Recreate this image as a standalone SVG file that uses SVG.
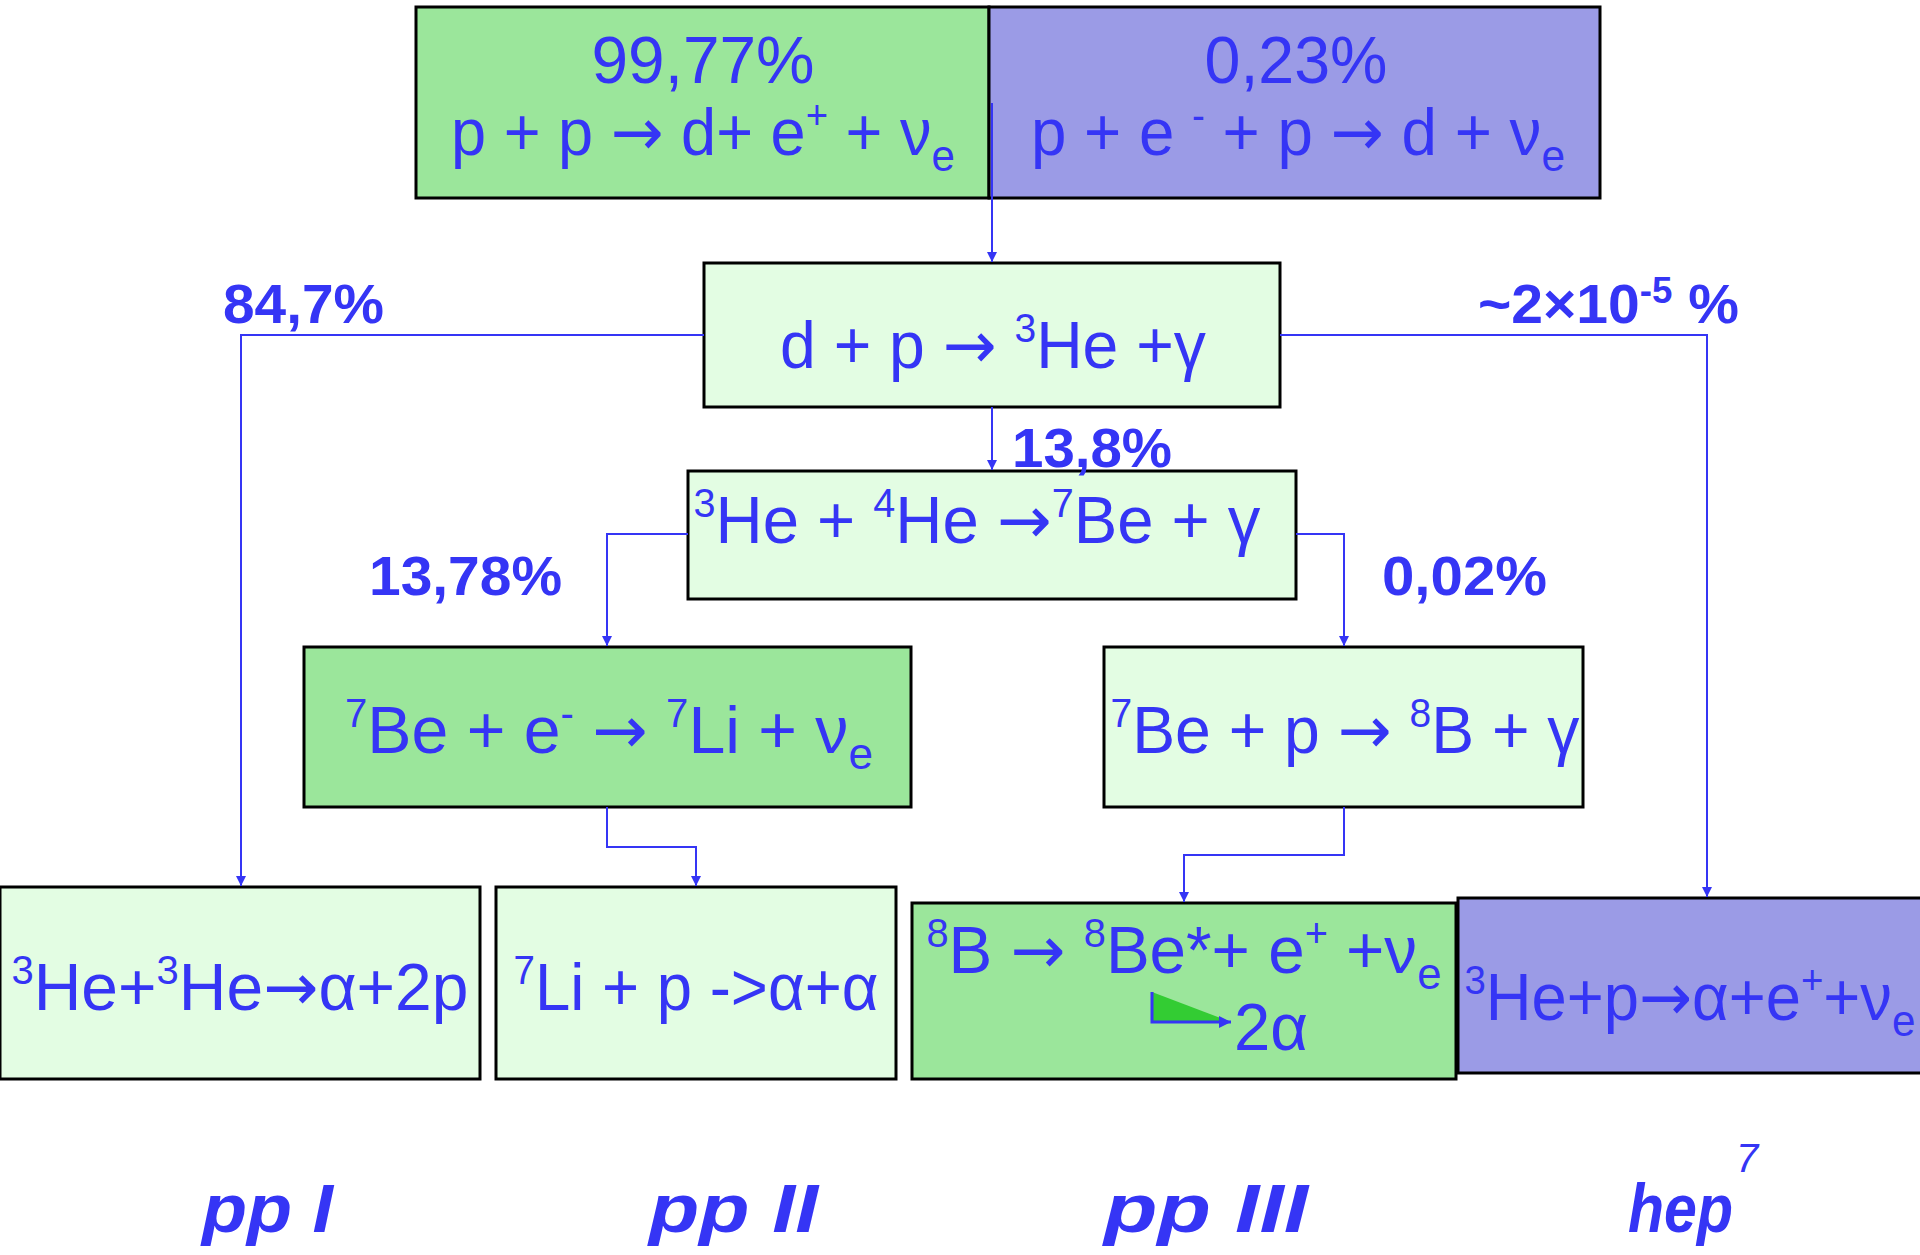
<svg xmlns="http://www.w3.org/2000/svg" width="1920" height="1255" viewBox="0 0 1920 1255">
<defs>
<style>
.box{stroke:#000;stroke-width:3}
.g{fill:#9be69b}
.p{fill:#9b9be6}
.l{fill:#e3fde3}
text{font-family:"Liberation Sans",Arial,sans-serif;fill:#3535f5}
.t{font-size:66px}
.s{font-size:40px}
.b{font-size:44px}
.ar{font-family:"DejaVu Sans",sans-serif}
.pct{font-size:56px;font-weight:bold}
.cyc{font-size:68px;font-weight:bold;font-style:italic}
.con{fill:none;stroke:#3535f5;stroke-width:2}
</style>
<marker id="ah" viewBox="0 0 10 10" refX="10" refY="5" markerWidth="10" markerHeight="14" markerUnits="userSpaceOnUse" orient="auto">
<path d="M0,0 L10,5 L0,10 z" fill="#3535f5"/>
</marker>
<marker id="ah2" viewBox="0 0 10 10" refX="10" refY="5" markerWidth="14" markerHeight="12" markerUnits="userSpaceOnUse" orient="auto">
<path d="M0,0 L10,5 L0,10 z" fill="#3535f5"/>
</marker>
</defs>
<rect width="1920" height="1255" fill="#fff"/>

<g id="n-pp">
<rect class="box g" x="416" y="7" width="573" height="191"/>
<text class="t" x="703" y="83" text-anchor="middle" textLength="223" lengthAdjust="spacingAndGlyphs">99,77%</text>
<text class="t" x="703" y="155" text-anchor="middle" textLength="504" lengthAdjust="spacingAndGlyphs">p + p <tspan class="ar">→</tspan> d+ e<tspan class="s" dy="-26">+</tspan><tspan dy="26"> + ν</tspan><tspan class="b" dy="16">e</tspan></text>
</g>

<g id="n-pep">
<rect class="box p" x="989" y="7" width="611" height="191"/>
<text class="t" x="1296" y="83" text-anchor="middle" textLength="183" lengthAdjust="spacingAndGlyphs">0,23%</text>
<text class="t" x="1298" y="155" text-anchor="middle" textLength="534" lengthAdjust="spacingAndGlyphs">p + e <tspan class="s" dy="-26">-</tspan><tspan dy="26"> + p </tspan><tspan class="ar">→</tspan> d + ν<tspan class="b" dy="16">e</tspan></text>
</g>

<g id="n-dp">
<rect class="box l" x="704" y="263" width="576" height="144"/>
<text class="t" x="993" y="368" text-anchor="middle" textLength="426" lengthAdjust="spacingAndGlyphs">d + p <tspan class="ar">→</tspan> <tspan class="s" dy="-26">3</tspan><tspan dy="26">He +γ</tspan></text>
</g>

<g id="n-he3he4">
<rect class="box l" x="688" y="471" width="608" height="128"/>
<text class="t" x="977" y="543" text-anchor="middle" textLength="567" lengthAdjust="spacingAndGlyphs"><tspan class="s" dy="-26">3</tspan><tspan dy="26">He + </tspan><tspan class="s" dy="-26">4</tspan><tspan dy="26">He </tspan><tspan class="ar">→</tspan><tspan class="s" dy="-26">7</tspan><tspan dy="26">Be + γ</tspan></text>
</g>

<g id="n-be7e">
<rect class="box g" x="304" y="647" width="607" height="160"/>
<text class="t" x="609" y="753" text-anchor="middle" textLength="528" lengthAdjust="spacingAndGlyphs"><tspan class="s" dy="-26">7</tspan><tspan dy="26">Be + e</tspan><tspan class="s" dy="-26">-</tspan><tspan dy="26"> </tspan><tspan class="ar">→</tspan> <tspan class="s" dy="-26">7</tspan><tspan dy="26">Li + ν</tspan><tspan class="b" dy="16">e</tspan></text>
</g>

<g id="n-be7p">
<rect class="box l" x="1104" y="647" width="479" height="160"/>
<text class="t" x="1345" y="753" text-anchor="middle" textLength="469" lengthAdjust="spacingAndGlyphs"><tspan class="s" dy="-26">7</tspan><tspan dy="26">Be + p </tspan><tspan class="ar">→</tspan> <tspan class="s" dy="-26">8</tspan><tspan dy="26">B + γ</tspan></text>
</g>

<g id="n-he3he3">
<rect class="box l" x="0" y="887" width="480" height="192"/>
<text class="t" x="240" y="1010" text-anchor="middle" textLength="457" lengthAdjust="spacingAndGlyphs"><tspan class="s" dy="-26">3</tspan><tspan dy="26">He+</tspan><tspan class="s" dy="-26">3</tspan><tspan dy="26">He</tspan><tspan class="ar">→</tspan>α+2p</text>
</g>

<g id="n-li7p">
<rect class="box l" x="496" y="887" width="400" height="192"/>
<text class="t" x="696" y="1010" text-anchor="middle" textLength="365" lengthAdjust="spacingAndGlyphs"><tspan class="s" dy="-26">7</tspan><tspan dy="26">Li + p -&gt;α+α</tspan></text>
</g>

<g id="n-b8">
<rect class="box g" x="912" y="903" width="544" height="176"/>
<text class="t" x="1184" y="973" text-anchor="middle" textLength="515" lengthAdjust="spacingAndGlyphs"><tspan class="s" dy="-26">8</tspan><tspan dy="26">B </tspan><tspan class="ar">→</tspan> <tspan class="s" dy="-26">8</tspan><tspan dy="26">Be*+ e</tspan><tspan class="s" dy="-26">+</tspan><tspan dy="26"> +ν</tspan><tspan class="b" dy="16">e</tspan></text>
<polyline points="1152,992 1152,1022 1231,1022" fill="#33cc33" stroke="#3535f5" stroke-width="3" marker-end="url(#ah2)"/>
<text class="t" x="1234" y="1050" textLength="74" lengthAdjust="spacingAndGlyphs">2α</text>
</g>

<g id="n-hep">
<rect class="box p" x="1458" y="898" width="466" height="175"/>
<text class="t" x="1690" y="1020" text-anchor="middle" textLength="451" lengthAdjust="spacingAndGlyphs"><tspan class="s" dy="-26">3</tspan><tspan dy="26">He+p</tspan><tspan class="ar">→</tspan>α+e<tspan class="s" dy="-26">+</tspan><tspan dy="26">+ν</tspan><tspan class="b" dy="16">e</tspan></text>
</g>

<g id="connectors">
<polyline class="con" points="992,103 992,262" marker-end="url(#ah)"/>
<polyline class="con" points="704,335 241,335 241,886" marker-end="url(#ah)"/>
<polyline class="con" points="1280,335 1707,335 1707,897" marker-end="url(#ah)"/>
<polyline class="con" points="992,407 992,470" marker-end="url(#ah)"/>
<polyline class="con" points="688,534 607,534 607,646" marker-end="url(#ah)"/>
<polyline class="con" points="1296,534 1344,534 1344,646" marker-end="url(#ah)"/>
<polyline class="con" points="607,807 607,847 696,847 696,886" marker-end="url(#ah)"/>
<polyline class="con" points="1344,807 1344,855 1184,855 1184,902" marker-end="url(#ah)"/>
</g>

<g id="labels">
<text class="pct" x="223" y="323" textLength="161" lengthAdjust="spacingAndGlyphs">84,7%</text>
<text class="pct" x="1478" y="323" textLength="261" lengthAdjust="spacingAndGlyphs">~2×10<tspan style="font-size:36px" dy="-20">-5</tspan><tspan dy="20"> %</tspan></text>
<text class="pct" x="1012" y="467" textLength="160" lengthAdjust="spacingAndGlyphs">13,8%</text>
<text class="pct" x="369" y="595" textLength="193" lengthAdjust="spacingAndGlyphs">13,78%</text>
<text class="pct" x="1382" y="595" textLength="165" lengthAdjust="spacingAndGlyphs">0,02%</text>
<text class="cyc" x="202" y="1232" textLength="131" lengthAdjust="spacingAndGlyphs">pp I</text>
<text class="cyc" x="649" y="1232" textLength="169" lengthAdjust="spacingAndGlyphs">pp II</text>
<text class="cyc" x="1104" y="1232" textLength="204" lengthAdjust="spacingAndGlyphs">pp III</text>
<text class="cyc" x="1628" y="1232" textLength="105" lengthAdjust="spacingAndGlyphs">hep</text>
<text x="1736" y="1172" style="font-size:40px;font-style:italic">7</text>
</g>
</svg>
